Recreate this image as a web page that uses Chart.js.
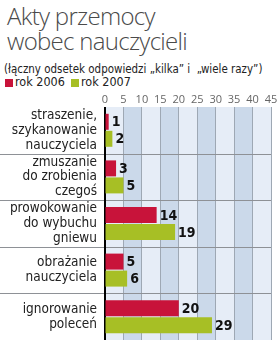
<!DOCTYPE html>
<html>
<head>
<meta charset="utf-8">
<script src="https://cdn.jsdelivr.net/npm/chart.js@4/dist/chart.umd.min.js"></script>
<style>
  html, body { margin: 0; padding: 0; background: #fff; }
  body { width: 280px; height: 348px; position: relative; overflow: hidden; }
  #title {
    position: absolute; left: 7px; top: 3px;
    font: 300 24px/25px "Open Sans", "Lato", sans-serif;
    color: #4a4a4a; white-space: nowrap; letter-spacing: -0.7px;
  }
  #sub {
    position: absolute; left: 4px; top: 61px;
    font: 13px/15px "DejaVu Sans Condensed", sans-serif;
    color: #222; white-space: nowrap;
    transform: scaleX(0.88); transform-origin: left top;
  }
  #legend {
    position: absolute; left: 5px; top: 75px;
    font: 12.5px/14px "DejaVu Sans Condensed", sans-serif;
    color: #222; white-space: nowrap;
  }
  #legend span.box { display: inline-block; width: 8px; height: 8px; margin-right: 2px; vertical-align: -1px; }
  #legend span.item { margin-right: 6px; }
  #wrap { position: absolute; left: 0; top: 88px; width: 280px; height: 260px; }
</style>
</head>
<body>
<div id="title">Akty przemocy<br>wobec nauczycieli</div>
<div id="sub">(łączny odsetek odpowiedzi „kilka” i &nbsp;„wiele razy”)</div>
<div id="legend"></div>
<div id="wrap"><canvas id="chart" width="280" height="260"></canvas></div>
<script>
// dane
const categories = [
  ["straszenie,", "szykanowanie", "nauczyciela"],
  ["zmuszanie", "do zrobienia", "czegoś"],
  ["prowokowanie", "do wybuchu", "gniewu"],
  ["obrażanie", "nauczyciela"],
  ["ignorowanie", "poleceń"]
];
const rok2006 = [1, 3, 14, 5, 20];
const rok2007 = [2, 5, 19, 6, 29];
const seriesNames = ["rok 2006", "rok 2007"];
const xTicks = [0, 5, 10, 15, 20, 25, 30, 35, 40, 45];

const RED = "#c8133a";
const GREEN = "#a7bf25";
const LIGHT = "#e6edf7";
const DARK = "#cbd9ea";
const GRID = "#9ea8b4";
const narrow = '"DejaVu Sans Condensed", sans-serif';

document.getElementById("legend").innerHTML = seriesNames.map((n, i) =>
  `<span class="item"><span class="box" style="background:${i ? GREEN : RED}"></span>${n}</span>`
).join("");

// tło w pasy co 5 punktów
const bands = {
  id: "bands",
  beforeDraw(chart) {
    const { ctx, chartArea: a, scales: { x } } = chart;
    ctx.save();
    ctx.fillStyle = LIGHT;
    ctx.fillRect(a.left, a.top, a.right - a.left, a.bottom - a.top);
    ctx.fillStyle = DARK;
    for (let i = 1; i < xTicks.length - 1; i += 2) {
      const x0 = x.getPixelForValue(xTicks[i]);
      const x1 = x.getPixelForValue(xTicks[i + 1]);
      ctx.fillRect(x0, a.top, x1 - x0, a.bottom - a.top);
    }
    ctx.restore();
  }
};

// linie oddzielające grupy, także pod opisami
const separators = {
  id: "separators",
  beforeDatasetsDraw(chart) {
    const { ctx, chartArea: a, scales: { y } } = chart;
    ctx.save();
    ctx.strokeStyle = "#8e9196";
    ctx.lineWidth = 1;
    for (let i = 0; i < categories.length - 1; i++) {
      const yy = Math.round((y.getPixelForValue(i) + y.getPixelForValue(i + 1)) / 2) + 0.5;
      ctx.beginPath();
      ctx.moveTo(0, yy);
      ctx.lineTo(a.right, yy);
      ctx.stroke();
    }
    ctx.strokeStyle = "#000";
    ctx.lineWidth = 2;
    ctx.beginPath();
    ctx.moveTo(a.left, a.top);
    ctx.lineTo(a.left, a.bottom);
    ctx.stroke();
    ctx.restore();
  }
};

// wartości przy słupkach
const valueLabels = {
  id: "valueLabels",
  afterDatasetsDraw(chart) {
    const { ctx } = chart;
    ctx.save();
    ctx.font = "bold 14px " + narrow;
    ctx.fillStyle = "#111";
    ctx.textAlign = "left";
    ctx.textBaseline = "middle";
    chart.data.datasets.forEach((ds, di) => {
      chart.getDatasetMeta(di).data.forEach((bar, i) => {
        ctx.fillText(String(ds.data[i]), bar.x + 3, bar.y + 1);
      });
    });
    ctx.restore();
  }
};

new Chart(document.getElementById("chart"), {
  type: "bar",
  data: {
    labels: categories,
    datasets: [
      { label: seriesNames[0], data: rok2006, backgroundColor: RED },
      { label: seriesNames[1], data: rok2007, backgroundColor: GREEN }
    ]
  },
  options: {
    indexAxis: "y",
    responsive: false,
    devicePixelRatio: 1,
    animation: false,
    categoryPercentage: 0.73,
    barPercentage: 0.94,
    layout: { padding: { left: 0, right: 9, top: 0, bottom: 8 } },
    plugins: { legend: { display: false }, tooltip: { enabled: false } },
    scales: {
      x: {
        position: "top",
        min: 0,
        max: 45,
        afterBuildTicks(scale) { scale.ticks = xTicks.map(v => ({ value: v })); },
        afterFit(scale) {
          scale.height = 19;
          scale.paddingLeft = 0;
          scale.paddingRight = 0;
        },
        ticks: {
          padding: 1,
          autoSkip: false,
          maxRotation: 0,
          minRotation: 0,
          color: "#666",
          font: { family: "'Open Sans', sans-serif", size: 11 }
        },
        grid: {
          drawTicks: false,
          color: ctx => (ctx.tick && ctx.tick.value === 0 ? "rgba(0,0,0,0)" : GRID),
          lineWidth: 1
        },
        border: { display: false }
      },
      y: {
        afterFit(scale) {
          scale.width = 105;
          scale.paddingTop = 0;
          scale.paddingBottom = 0;
        },
        ticks: {
          padding: 8,
          autoSkip: false,
          color: "#222",
          font: { family: narrow, size: 13.5, lineHeight: 1.1 }
        },
        grid: { display: false, drawTicks: false },
        border: { display: false }
      }
    }
  },
  plugins: [bands, separators, valueLabels]
});
</script>
</body>
</html>
